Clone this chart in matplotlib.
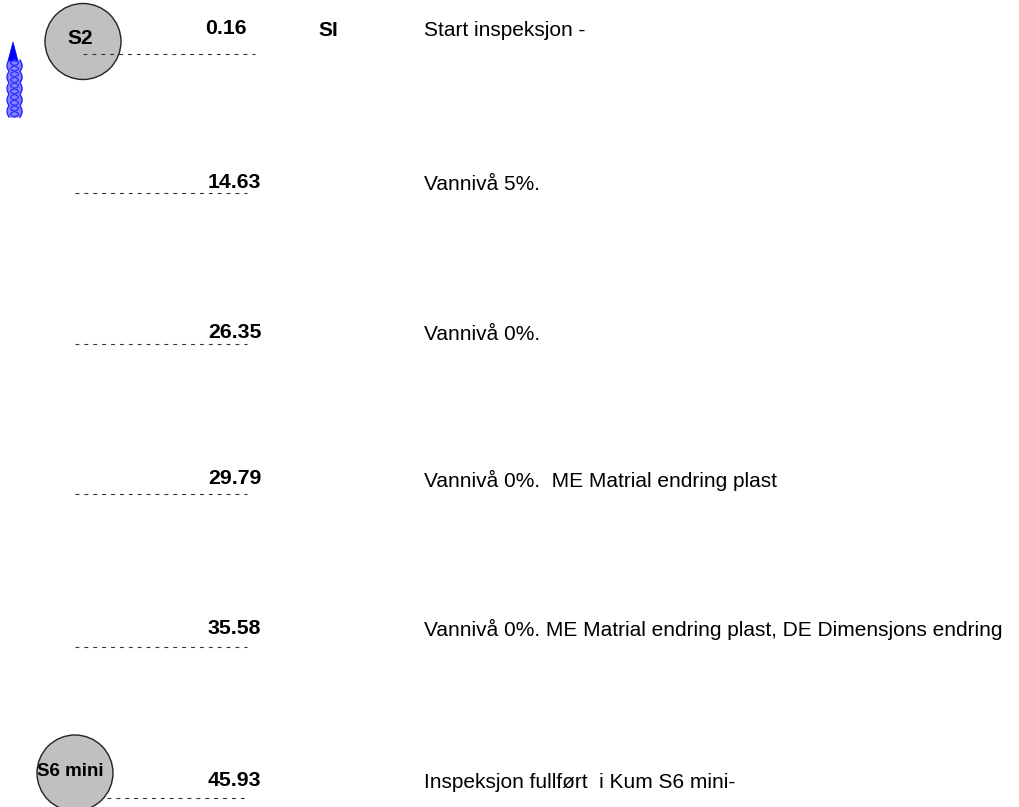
import numpy as np
import matplotlib
matplotlib.use("Agg")
import matplotlib.pyplot as plt
from matplotlib.patches import Circle, Polygon

# ---- data ----
distances = ["0.16", "14.63", "26.35", "29.79", "35.58", "45.93"]
codes = ["SI", "", "", "", "", ""]
comments = [
    "Start inspeksjon -",
    "Vannivå 5%.",
    "Vannivå 0%.",
    "Vannivå 0%.  ME Matrial endring plast",
    "Vannivå 0%. ME Matrial endring plast, DE Dimensjons endring",
    "Inspeksjon fullført  i Kum S6 mini-",
]
start_node = "S2"
end_node = "S6 mini"

# ---- layout (pixel coordinates) ----
W, H = 1019, 807
row_y = [29, 183, 333, 479, 628, 781]
line_y = [54, 193, 344, 494, 647, 798]
line_x0 = [83, 75, 75, 75, 75, 107]
line_x1 = 247

plt.rcParams['font.family'] = ['Liberation Sans', 'DejaVu Sans']
fig = plt.figure(figsize=(W / 100, H / 100), dpi=100)
ax = fig.add_axes([0, 0, 1, 1])
ax.set_xlim(0, W)
ax.set_ylim(H, 0)
ax.axis('off')

# nodes
ax.add_patch(Circle((83, 41.5), 38, facecolor='#c0c0c0', edgecolor='#222222', lw=1.0, zorder=2))
ax.text(80, 38, start_node, fontsize=15, fontweight='bold', ha='center', va='center', zorder=3)
ax.add_patch(Circle((75, 773), 38, facecolor='#c0c0c0', edgecolor='#222222', lw=1.0, zorder=2))
ax.text(70, 771, end_node, fontsize=13.5, fontweight='bold', ha='center', va='center', zorder=3)

# rows
for i, (d, c, com) in enumerate(zip(distances, codes, comments)):
    x1 = 255 if i == 0 else line_x1
    ax.plot([line_x0[i], x1], [line_y[i], line_y[i]], color='#333333', lw=0.8,
            dashes=(3.5, 4.5), zorder=4)
    ax.text(205 if i == 0 else 208, row_y[i], d, fontsize=15.3, fontweight='bold',
            ha='left', va='center', zorder=5)
    if c:
        ax.text(318, row_y[i] + 1, c, fontsize=15, fontweight='bold', ha='left', va='center')
    ax.text(424, row_y[i] + 1, com, fontsize=15, ha='left', va='center')

# flow direction arrow (blue, wavy shaft)
ax.add_patch(Polygon([[13, 42], [8, 61], [18, 61]], closed=True, facecolor='#0000ff',
                     edgecolor='#0000ff', lw=0.5, zorder=3))
yy = np.linspace(60, 117, 300)
half = 5.5 + 2.0 * np.abs(np.sin((yy - 60) / 57 * np.pi * 5))
ax.fill_betweenx(yy, 14.5 - half, 14.5 + half, color='#7777ff', alpha=0.9, lw=0, zorder=2)
ax.plot(14.5 - half, yy, color='#2222ff', lw=1.0, zorder=3)
ax.plot(14.5 + half, yy, color='#2222ff', lw=1.0, zorder=3)
ph = (yy - 60) / 57 * 2 * np.pi * 5
ax.plot(14.5 + 4 * np.sin(ph), yy, color='#3333ff', lw=1.0, zorder=3)
ax.plot(14.5 - 4 * np.sin(ph), yy, color='#3333ff', lw=1.0, zorder=3)

fig.savefig("out.png", dpi=100, facecolor='white')
